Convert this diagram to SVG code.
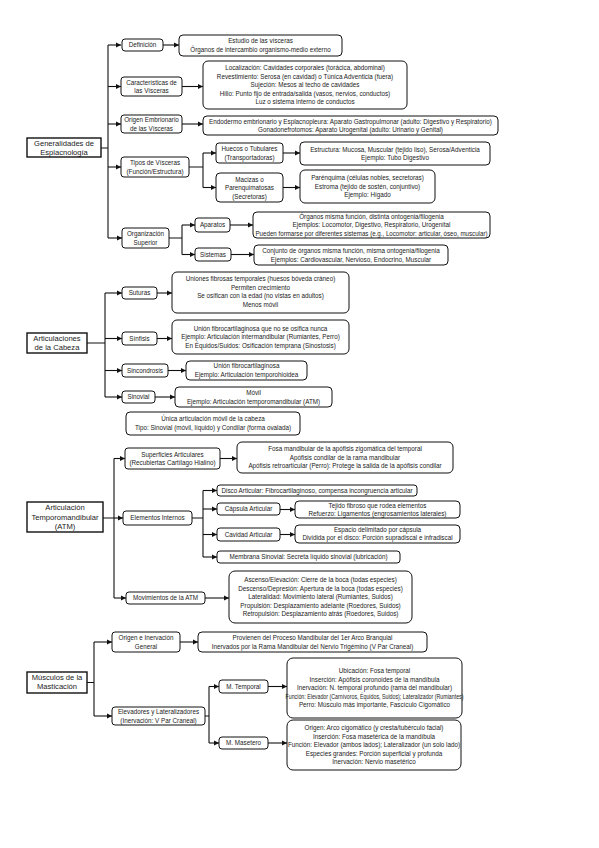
<svg xmlns="http://www.w3.org/2000/svg" width="599" height="848" viewBox="0 0 599 848">
<style>
.n{fill:#fff;stroke:#111;stroke-width:1}
.r{fill:#fff;stroke:#111;stroke-width:1.4}
text{font-family:"Liberation Sans",Arial,sans-serif;font-size:6.3px;fill:#1a1a1a;text-anchor:middle}
.rt{font-size:7.6px}
.c{fill:none;stroke:#111;stroke-width:1.1}
</style>
<defs>
<marker id="a" markerWidth="6" markerHeight="6" refX="5" refY="3" orient="auto" markerUnits="userSpaceOnUse"><path d="M0,0.6 L5,3 L0,5.4 Z" fill="#111"/></marker>
</defs>
<rect width="599" height="848" fill="#fff"/>

<g id="connectors">
<path class="c" d="M101,148 H108 M108,45 V238"/>
<path class="c" d="M108,45 H121" marker-end="url(#a)"/>
<path class="c" d="M108,86.5 H121" marker-end="url(#a)"/>
<path class="c" d="M108,124 H121" marker-end="url(#a)"/>
<path class="c" d="M108,167 H121" marker-end="url(#a)"/>
<path class="c" d="M108,238 H122" marker-end="url(#a)"/>
<path class="c" d="M163,45 H179" marker-end="url(#a)"/>
<path class="c" d="M182,86.5 H203" marker-end="url(#a)"/>
<path class="c" d="M182,124 H203" marker-end="url(#a)"/>
<path class="c" d="M189,167 H203 M203,153 V187.5"/>
<path class="c" d="M203,153 H216" marker-end="url(#a)"/>
<path class="c" d="M203,187.5 H216" marker-end="url(#a)"/>
<path class="c" d="M283,153 H300" marker-end="url(#a)"/>
<path class="c" d="M283,187.5 H300" marker-end="url(#a)"/>
<path class="c" d="M169,238 H182 M182,225 V254.5"/>
<path class="c" d="M182,225 H195" marker-end="url(#a)"/>
<path class="c" d="M182,254.5 H195" marker-end="url(#a)"/>
<path class="c" d="M230,225 H253" marker-end="url(#a)"/>
<path class="c" d="M231,254.5 H254" marker-end="url(#a)"/>
<path class="c" d="M87,343 H105 M105,293 V397"/>
<path class="c" d="M105,293 H122" marker-end="url(#a)"/>
<path class="c" d="M105,338.5 H122" marker-end="url(#a)"/>
<path class="c" d="M105,370.5 H122" marker-end="url(#a)"/>
<path class="c" d="M105,397 H122" marker-end="url(#a)"/>
<path class="c" d="M157,293 H172" marker-end="url(#a)"/>
<path class="c" d="M157,338.5 H172" marker-end="url(#a)"/>
<path class="c" d="M168,370.5 H186" marker-end="url(#a)"/>
<path class="c" d="M155,397 H175" marker-end="url(#a)"/>
<path class="c" d="M103,518 H114 M114,458.5 V598"/>
<path class="c" d="M114,458.5 H125" marker-end="url(#a)"/>
<path class="c" d="M114,518 H123" marker-end="url(#a)"/>
<path class="c" d="M114,598 H126" marker-end="url(#a)"/>
<path class="c" d="M220,458.5 H237" marker-end="url(#a)"/>
<path class="c" d="M192,518 H203 M203,490.5 V557"/>
<path class="c" d="M203,490.5 H217" marker-end="url(#a)"/>
<path class="c" d="M203,509 H217" marker-end="url(#a)"/>
<path class="c" d="M203,534.5 H217" marker-end="url(#a)"/>
<path class="c" d="M203,557 H217" marker-end="url(#a)"/>
<path class="c" d="M280,509.5 H295" marker-end="url(#a)"/>
<path class="c" d="M280,534.5 H295" marker-end="url(#a)"/>
<path class="c" d="M205,598 H229" marker-end="url(#a)"/>
<path class="c" d="M87,682.5 H94 M94,642 V716"/>
<path class="c" d="M94,642 H112" marker-end="url(#a)"/>
<path class="c" d="M94,716 H112" marker-end="url(#a)"/>
<path class="c" d="M180,642 H198" marker-end="url(#a)"/>
<path class="c" d="M205,716 H209 M209,686.5 V743"/>
<path class="c" d="M209,686.5 H219" marker-end="url(#a)"/>
<path class="c" d="M209,743 H219" marker-end="url(#a)"/>
<path class="c" d="M268,686.5 H287" marker-end="url(#a)"/>
<path class="c" d="M268,743 H287" marker-end="url(#a)"/>
</g>

<g id="root1"><rect class="r" x="27" y="138" width="74" height="19"/><text class="rt" x="64" y="145.5">Generalidades de</text><text class="rt" x="64" y="154.5">Esplacnología</text></g>
<g id="n_def"><rect class="n" x="122" y="39" width="41" height="12" rx="3"/><text x="142.5" y="47.2">Definición</text></g>
<g id="d_def"><rect class="n" x="179" y="35" width="163" height="21" rx="4"/><text x="260.5" y="43.3">Estudio de las vísceras</text><text x="260.5" y="52.1">Órganos de intercambio organismo-medio externo</text></g>
<g id="n_car"><rect class="n" x="121" y="77" width="61" height="19" rx="3"/><text x="151.5" y="84.5">Características de</text><text x="151.5" y="93">las Vísceras</text></g>
<g id="d_car"><rect class="n" x="203" y="61" width="204" height="48" rx="5"/>
<text x="305" y="69.9">Localización: Cavidades corporales (torácica, abdominal)</text>
<text x="305" y="78.5">Revestimiento: Serosa (en cavidad) o Túnica Adventicia (fuera)</text>
<text x="305" y="87.1">Sujeción: Mesos al techo de cavidades</text>
<text x="305" y="95.7">Hilio: Punto fijo de entrada/salida (vasos, nervios, conductos)</text>
<text x="305" y="104.3">Luz o sistema interno de conductos</text></g>
<g id="n_ori"><rect class="n" x="121" y="115" width="61" height="18" rx="3"/><text x="151.5" y="122">Origen Embrionario</text><text x="151.5" y="130.5">de las Vísceras</text></g>
<g id="d_ori"><rect class="n" x="203" y="116" width="295" height="19" rx="4"/><text x="350.5" y="123.5">Endodermo embrionario y Esplacnopleura: Aparato Gastropulmonar (adulto: Digestivo y Respiratorio)</text><text x="350.5" y="132">Gonadonefrotomos: Aparato Urogenital (adulto: Urinario y Genital)</text></g>
<g id="n_tip"><rect class="n" x="121" y="157" width="68" height="20" rx="3"/><text x="155" y="165">Tipos de Vísceras</text><text x="155" y="173.5">(Función/Estructura)</text></g>
<g id="n_hue"><rect class="n" x="216" y="143" width="67" height="20" rx="3"/><text x="249.5" y="151">Huecos o Tubulares</text><text x="249.5" y="159.5">(Transportadoras)</text></g>
<g id="d_hue"><rect class="n" x="300" y="142" width="190" height="23" rx="4"/><text x="395" y="151.5">Estructura: Mucosa, Muscular (tejido liso), Serosa/Adventicia</text><text x="395" y="160">Ejemplo: Tubo Digestivo</text></g>
<g id="n_mac"><rect class="n" x="216" y="173" width="67" height="29" rx="4"/><text x="249.5" y="181.5">Macizas o</text><text x="249.5" y="190">Parenquimatosas</text><text x="249.5" y="198.5">(Secretoras)</text></g>
<g id="d_mac"><rect class="n" x="300" y="170" width="135" height="33" rx="5"/><text x="367.5" y="180">Parénquima (células nobles, secretoras)</text><text x="367.5" y="188.6">Estroma (tejido de sostén, conjuntivo)</text><text x="367.5" y="197.2">Ejemplo: Hígado</text></g>
<g id="n_org"><rect class="n" x="122" y="228" width="47" height="20" rx="3"/><text x="145.5" y="236">Organización</text><text x="145.5" y="244.5">Superior</text></g>
<g id="n_apa"><rect class="n" x="195" y="218" width="35" height="14" rx="3"/><text x="212.5" y="227.2">Aparatos</text></g>
<g id="d_apa"><rect class="n" x="253" y="212" width="237" height="26" rx="4"/><text x="371.5" y="218.5">Órganos misma función, distinta ontogenia/filogenia</text><text x="371.5" y="227.1">Ejemplos: Locomotor, Digestivo, Respiratorio, Urogenital</text><text x="371.5" y="235.7" textLength="232" lengthAdjust="spacingAndGlyphs">Pueden formarse por diferentes sistemas (e.g., Locomotor: articular, óseo, muscular)</text></g>
<g id="n_sis"><rect class="n" x="195" y="248" width="36" height="13" rx="3"/><text x="213" y="256.7">Sistemas</text></g>
<g id="d_sis"><rect class="n" x="254" y="245" width="194" height="20" rx="4"/><text x="351" y="253">Conjunto de órganos misma función, misma ontogenia/filogenia</text><text x="351" y="261.6">Ejemplos: Cardiovascular, Nervioso, Endocrino, Muscular</text></g>

<g id="root2"><rect class="r" x="27" y="333" width="60" height="20"/><text class="rt" x="57" y="340.5">Articulaciones</text><text class="rt" x="57" y="349.5">de la Cabeza</text></g>
<g id="n_sut"><rect class="n" x="122" y="287" width="35" height="12" rx="3"/><text x="139.5" y="295.2">Suturas</text></g>
<g id="d_sut"><rect class="n" x="172" y="272" width="177" height="41" rx="5"/><text x="260.5" y="281">Uniones fibrosas temporales (huesos bóveda cráneo)</text><text x="260.5" y="289.6">Permiten crecimiento</text><text x="260.5" y="298.2">Se osifican con la edad (no vistas en adultos)</text><text x="260.5" y="306.8">Menos móvil</text></g>
<g id="n_sin"><rect class="n" x="122" y="332" width="35" height="13" rx="3"/><text x="139.5" y="340.7">Sínfisis</text></g>
<g id="d_sin"><rect class="n" x="172" y="320" width="177" height="34" rx="5"/><text x="260.5" y="330.5">Unión fibrocartilaginosa que no se osifica nunca</text><text x="260.5" y="339.1">Ejemplo: Articulación intermandibular (Rumiantes, Perro)</text><text x="260.5" y="347.7">En Équidos/Suidos: Osificación temprana (Sinostosis)</text></g>
<g id="n_sinc"><rect class="n" x="122" y="364" width="46" height="13" rx="3"/><text x="145" y="372.7">Sincondrosis</text></g>
<g id="d_sinc"><rect class="n" x="186" y="361" width="121" height="19" rx="4"/><text x="246.5" y="368.4">Unión fibrocartilaginosa</text><text x="246.5" y="377">Ejemplo: Articulación temporohioidea</text></g>
<g id="n_sinov"><rect class="n" x="122" y="391" width="33" height="12" rx="3"/><text x="138.5" y="399.2">Sinovial</text></g>
<g id="d_sinov"><rect class="n" x="175" y="387" width="157" height="20" rx="4"/><text x="253.5" y="394.9">Móvil</text><text x="253.5" y="403.5">Ejemplo: Articulación temporomandibular (ATM)</text></g>
<g id="d_unica"><rect class="n" x="126" y="412" width="174" height="23" rx="4"/><text x="213" y="421.4">Única articulación móvil de la cabeza</text><text x="213" y="430">Tipo: Sinovial (móvil, líquido) y Condilar (forma ovalada)</text></g>

<g id="root3"><rect class="r" x="27" y="502" width="76" height="30"/><text class="rt" x="65" y="510">Articulación</text><text class="rt" x="65" y="519.5">Temporomandibular</text><text class="rt" x="65" y="529">(ATM)</text></g>
<g id="n_sup"><rect class="n" x="125" y="448" width="95" height="21" rx="3"/><text x="172.5" y="456.5">Superficies Articulares</text><text x="172.5" y="465">(Recubiertas Cartílago Hialino)</text></g>
<g id="d_sup"><rect class="n" x="237" y="442" width="216" height="31" rx="5"/><text x="345" y="451">Fosa mandibular de la apófisis zigomática del temporal</text><text x="345" y="459.6">Apófisis condilar de la rama mandibular</text><text x="345" y="468.2">Apófisis retroarticular (Perro): Protege la salida de la apófisis condilar</text></g>
<g id="n_ele"><rect class="n" x="123" y="511" width="69" height="14" rx="3"/><text x="157.5" y="520.2">Elementos Internos</text></g>
<g id="n_dis"><rect class="n" x="217" y="485" width="200" height="11" rx="3"/><text x="317" y="492.7">Disco Articular: Fibrocartilaginoso, compensa incongruencia articular</text></g>
<g id="n_cap"><rect class="n" x="217" y="503" width="63" height="12" rx="3"/><text x="248.5" y="511.2">Cápsula Articular</text></g>
<g id="d_cap"><rect class="n" x="295" y="501" width="165" height="17" rx="4"/><text x="377.5" y="507.5">Tejido fibroso que rodea elementos</text><text x="377.5" y="515.6">Refuerzo: Ligamentos (engrosamientos laterales)</text></g>
<g id="n_cav"><rect class="n" x="217" y="528" width="63" height="13" rx="3"/><text x="248.5" y="536.7">Cavidad Articular</text></g>
<g id="d_cav"><rect class="n" x="295" y="525" width="165" height="18" rx="4"/><text x="377.5" y="531.9">Espacio delimitado por cápsula</text><text x="377.5" y="540.3">Dividida por el disco: Porción supradiscal e infradiscal</text></g>
<g id="n_mem"><rect class="n" x="217" y="551" width="183" height="12" rx="3"/><text x="308.5" y="559.2">Membrana Sinovial: Secreta líquido sinovial (lubricación)</text></g>
<g id="n_mov"><rect class="n" x="126" y="592" width="79" height="12" rx="3"/><text x="165.5" y="600.2">Movimientos de la ATM</text></g>
<g id="d_mov"><rect class="n" x="229" y="571" width="183" height="52" rx="6"/><text x="320.5" y="581.9">Ascenso/Elevación: Cierre de la boca (todas especies)</text><text x="320.5" y="590.5">Descenso/Depresión: Apertura de la boca (todas especies)</text><text x="320.5" y="599.1">Lateralidad: Movimiento lateral (Rumiantes, Suidos)</text><text x="320.5" y="607.7">Propulsión: Desplazamiento adelante (Roedores, Suidos)</text><text x="320.5" y="616.3">Retropulsión: Desplazamiento atrás (Roedores, Suidos)</text></g>

<g id="root4"><rect class="r" x="27" y="672" width="60" height="21"/><text class="rt" x="57" y="680">Músculos de la</text><text class="rt" x="57" y="689">Masticación</text></g>
<g id="n_oig"><rect class="n" x="112" y="632" width="68" height="20" rx="3"/><text x="146" y="640">Origen e Inervación</text><text x="146" y="648.5">General</text></g>
<g id="d_oig"><rect class="n" x="198" y="632" width="229" height="20" rx="4"/><text x="312.5" y="640">Provienen del Proceso Mandibular del 1er Arco Branquial</text><text x="312.5" y="648.5">Inervados por la Rama Mandibular del Nervio Trigémino (V Par Craneal)</text></g>
<g id="n_elev"><rect class="n" x="112" y="707" width="93" height="18" rx="3"/><text x="158.5" y="714">Elevadores y Lateralizadores</text><text x="158.5" y="722.5">(Inervación: V Par Craneal)</text></g>
<g id="n_tem"><rect class="n" x="219" y="680" width="49" height="13" rx="3"/><text x="243.5" y="688.7">M. Temporal</text></g>
<g id="d_tem"><rect class="n" x="287" y="658" width="175" height="60" rx="6"/><text x="374.5" y="672.9">Ubicación: Fosa temporal</text><text x="374.5" y="681.5">Inserción: Apófisis coronoides de la mandíbula</text><text x="374.5" y="690.1">Inervación: N. temporal profundo (rama del mandibular)</text><text x="374.5" y="698.7" textLength="178" lengthAdjust="spacingAndGlyphs">Función: Elevador (Carnívoros, Équidos, Suidos); Lateralizador (Rumiantes)</text><text x="374.5" y="707.3">Perro: Músculo más importante, Fascículo Cigomático</text></g>
<g id="n_mas"><rect class="n" x="219" y="737" width="49" height="12" rx="3"/><text x="243.5" y="745.2">M. Masetero</text></g>
<g id="d_mas"><rect class="n" x="287" y="720" width="174" height="50" rx="6"/><text x="374" y="729.9">Origen: Arco cigomático (y cresta/tubérculo facial)</text><text x="374" y="738.5">Inserción: Fosa masetérica de la mandíbula</text><text x="374" y="747.1">Función: Elevador (ambos lados); Lateralizador (un solo lado)</text><text x="374" y="755.7">Especies grandes: Porción superficial y profunda</text><text x="374" y="764.3">Inervación: Nervio masetérico</text></g>
</svg>
